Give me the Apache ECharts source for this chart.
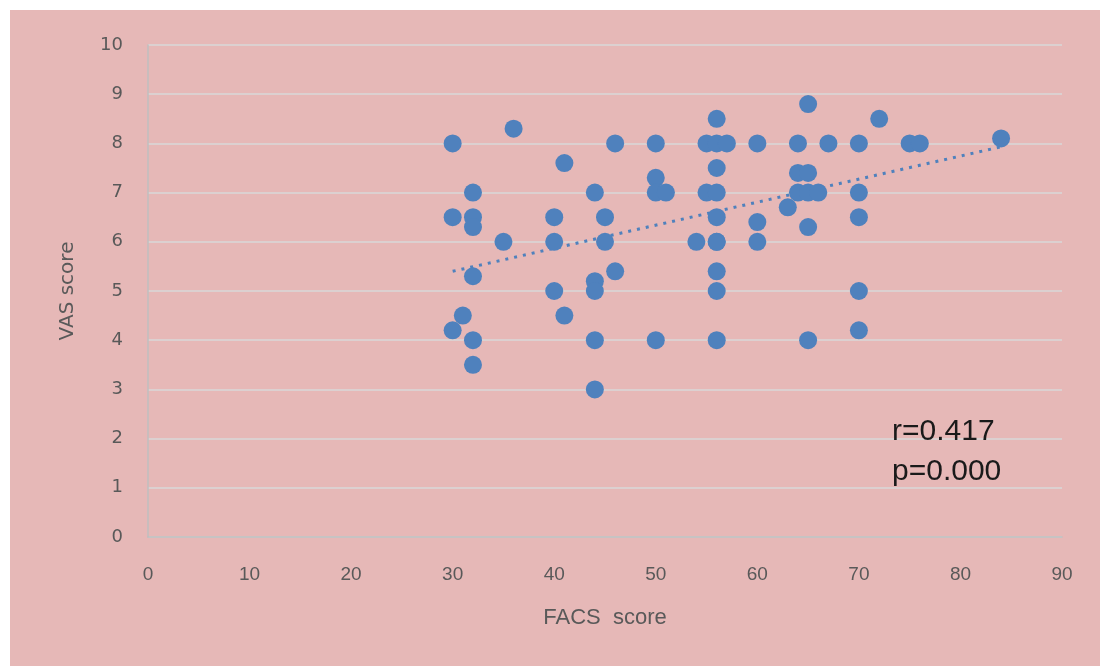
<!DOCTYPE html>
<html>
<head>
<meta charset="utf-8">
<script src="https://cdn.jsdelivr.net/npm/echarts@6/dist/echarts.min.js"></script>
<style>
html,body{margin:0;padding:0;background:#ffffff;}
#chart{width:1100px;height:666px;}
</style>
</head>
<body>
<div id="chart"></div>
<script>
// FACS score (x) and VAS score (y)
const facs = [30,36,46,50,41,50,50,51,32,44,30,32,32,40,45,35,40,45,32,46,44,44,40,31,30,41,32,44,50,32,44,
  65,56,72,55,56,57,60,64,67,70,75,76,84,56,64,65,55,56,64,65,66,70,63,56,60,70,65,54,56,56,60,56,56,70,70,56,65];
const vas  = [8,8.3,8,8,7.6,7.3,7,7,7,7,6.5,6.5,6.3,6.5,6.5,6,6,6,5.3,5.4,5.2,5,5,4.5,4.2,4.5,4,4,4,3.5,3,
  8.8,8.5,8.5,8,8,8,8,8,8,8,8,8,8.1,7.5,7.4,7.4,7,7,7,7,7,7,6.7,6.5,6.4,6.5,6.3,6,6,6,6,5.4,5,5,4.2,4,4];
// dotted linear trend line endpoints
const trendX = [30, 84];
const trendY = [5.4, 7.93];
const xTicks = [0,10,20,30,40,50,60,70,80,90];
const yTicks = [0,1,2,3,4,5,6,7,8,9,10];
const stats = ['r=0.417', 'p=0.000'];

const points = facs.map((x, i) => [x, vas[i]]);
const trend = trendX.map((x, i) => [x, trendY[i]]);

const chart = echarts.init(document.getElementById('chart'), null, {renderer: 'canvas'});
chart.setOption({
  backgroundColor: '#ffffff',
  animation: false,
  grid: {left: 148, right: 38, top: 45, bottom: 129},
  xAxis: {
    type: 'value', min: xTicks[0], max: xTicks[xTicks.length - 1], interval: 10,
    name: 'FACS  score', nameLocation: 'middle', nameGap: 70,
    nameTextStyle: {fontFamily: 'Liberation Sans Narrow, Liberation Sans', fontSize: 22, color: '#595959'},
    axisLine: {show: true, lineStyle: {color: '#BFBFBF', width: 1.5}},
    axisTick: {show: false},
    splitLine: {show: false},
    axisLabel: {fontFamily: 'Liberation Sans Narrow, Liberation Sans', fontSize: 19, color: '#595959', margin: 28}
  },
  yAxis: {
    type: 'value', min: yTicks[0], max: yTicks[yTicks.length - 1], interval: 1,
    name: 'VAS score', nameLocation: 'middle', nameGap: 70, nameRotate: 90,
    nameTextStyle: {fontFamily: 'DejaVu Sans', fontSize: 20, color: '#595959'},
    axisLine: {show: true, lineStyle: {color: '#BFBFBF', width: 1.5}},
    axisTick: {show: false},
    splitLine: {show: true, lineStyle: {color: '#D9D9D9', width: 1.5}},
    axisLabel: {fontFamily: 'DejaVu Sans', fontSize: 18, color: '#595959', margin: 25}
  },
  series: [{
    type: 'scatter',
    data: points,
    symbol: 'circle',
    symbolSize: 18,
    itemStyle: {color: '#4F81BD', opacity: 1}
  }, {
    type: 'line',
    data: trend,
    symbol: 'none',
    lineStyle: {color: '#4F81BD', width: 3, type: [3, 6]},
    z: 1
  }],
  graphic: [{
    type: 'rect', left: 10, top: 10, z: -10,
    shape: {width: 1090, height: 656},
    style: {fill: '#E6B8B7'}
  }, {
    type: 'text', left: 892, top: 417, z: 10,
    style: {text: stats[0], fontFamily: 'Liberation Sans', fontSize: 30, fill: '#1a1a1a'}
  }, {
    type: 'text', left: 892, top: 457, z: 10,
    style: {text: stats[1], fontFamily: 'Liberation Sans', fontSize: 30, fill: '#1a1a1a'}
  }]
});
</script>
</body>
</html>
